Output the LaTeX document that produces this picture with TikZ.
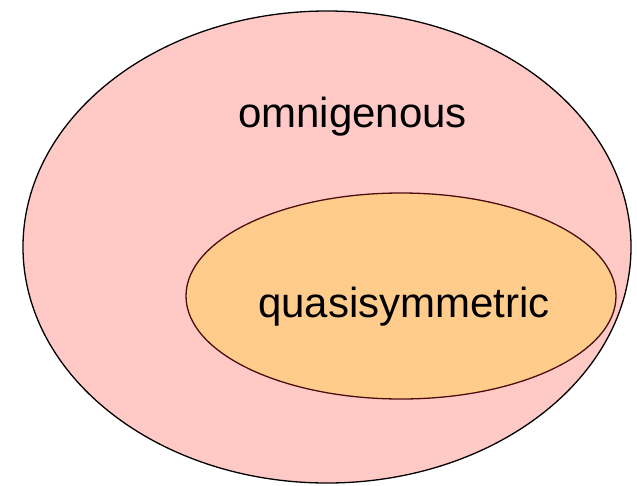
\documentclass[tikz,border=0pt]{standalone}
\usepackage{fontspec}
\setmainfont{Liberation Sans}
\usetikzlibrary{shapes.geometric}
\definecolor{outerfill}{HTML}{FFCAC6}
\definecolor{innerfill}{HTML}{FFCC8C}
\definecolor{innerline}{HTML}{4A0E0E}
\tikzset{
  setshape/.style={ellipse, inner sep=0pt, outer sep=0pt, line width=1.3pt},
  setlabel/.style={anchor=base, inner sep=0pt, font=\fontsize{42pt}{50pt}\selectfont}
}
\begin{document}
\begin{tikzpicture}[x=1pt, y=-1pt]
\useasboundingbox (0,0) rectangle (637,485);
\node[setshape, draw=black, fill=outerfill, minimum width=608pt, minimum height=472pt] (outer) at (327,247) {};
\node[setshape, draw=innerline, fill=innerfill, minimum width=430pt, minimum height=206pt] (inner) at (401,296) {};
\node[setlabel] (omni) at (352.5,127) {omnigenous};
\node[setlabel] (quasi) at (404,317) {quasisymmetric};
\end{tikzpicture}
\end{document}
